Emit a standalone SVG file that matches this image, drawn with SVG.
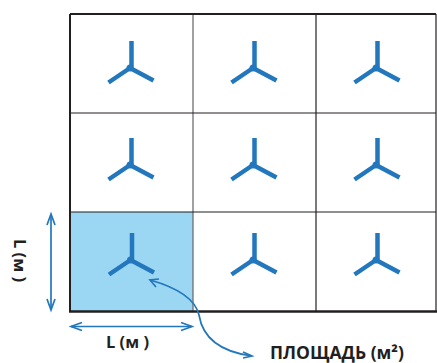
<svg xmlns="http://www.w3.org/2000/svg" width="437" height="363" viewBox="0 0 437 363">
<defs>
<style>
.grid{stroke:#231f20;fill:none}
.dim{stroke:#2277bd;stroke-width:1.7;fill:none}
.lbl{font-family:"Open Sans","Noto Sans",sans-serif;font-weight:700;fill:#231f20}
</style>
<g id="t"><path d="M1.500-27V0M0 0L-21.500 14.500M0 0L23.500 12.500" fill="none" stroke="#2277bd" stroke-width="4.500"/><circle r="3.500" fill="#2277bd"/></g>
</defs>
<rect id="cell-highlight" x="70" y="212" width="123" height="99" fill="#9bd6f3"/>
<g id="grid" class="grid">
<path d="M193 14V311" stroke-width="1.300" stroke="#6d6e71"/>
<path d="M316 14V311" stroke-width="1.200"/>
<path d="M70 113H436M70 212H436" stroke-width="1.200"/>
<path d="M436 14V311" stroke-width="1.200"/>
<path d="M70 14H436" stroke-width="1.800"/>
<path d="M70 14V311" stroke-width="2"/>
<path d="M69 311.500H437" stroke-width="2.400"/>
</g>
<g id="turbine-1"><use href="#t" x="130" y="68"/></g>
<g id="turbine-2"><use href="#t" x="253" y="68"/></g>
<g id="turbine-3"><use href="#t" x="376" y="68"/></g>
<g id="turbine-4"><use href="#t" x="130" y="165"/></g>
<g id="turbine-5"><use href="#t" x="253" y="165"/></g>
<g id="turbine-6"><use href="#t" x="376" y="165"/></g>
<g id="turbine-7"><use href="#t" x="130.500" y="260"/></g>
<g id="turbine-8"><use href="#t" x="253" y="260"/></g>
<g id="turbine-9"><use href="#t" x="376" y="260"/></g>
<g id="connectors">
<path class="dim" d="M51 214V310"/>
<path class="dim" d="M47 225L51 214L55 225M47 299L51 310L55 299" stroke-width="1.300"/>
<path class="dim" d="M71 326.500H192"/>
<path class="dim" d="M82 322.500L71 326.500L82 330.500M181 322.500L192 326.500L181 330.500" stroke-width="1.300"/>
<path class="dim" d="M150 280C175 287 195 298 199 315C203 340 222 352 252 356"/>
<path class="dim" d="M159 279L150 280L156 287M243 352L252 356L243 358" stroke-width="1.300"/>
</g>
<g id="labels">
<text class="lbl" x="106" y="348" font-size="16.500">L (м )</text>
<text class="lbl" font-size="16.500" transform="translate(14 239) rotate(90)">L (м )</text>
<text class="lbl" x="270" y="359" font-size="17.500">ПЛОЩАДЬ (м²)</text>
</g>
</svg>
